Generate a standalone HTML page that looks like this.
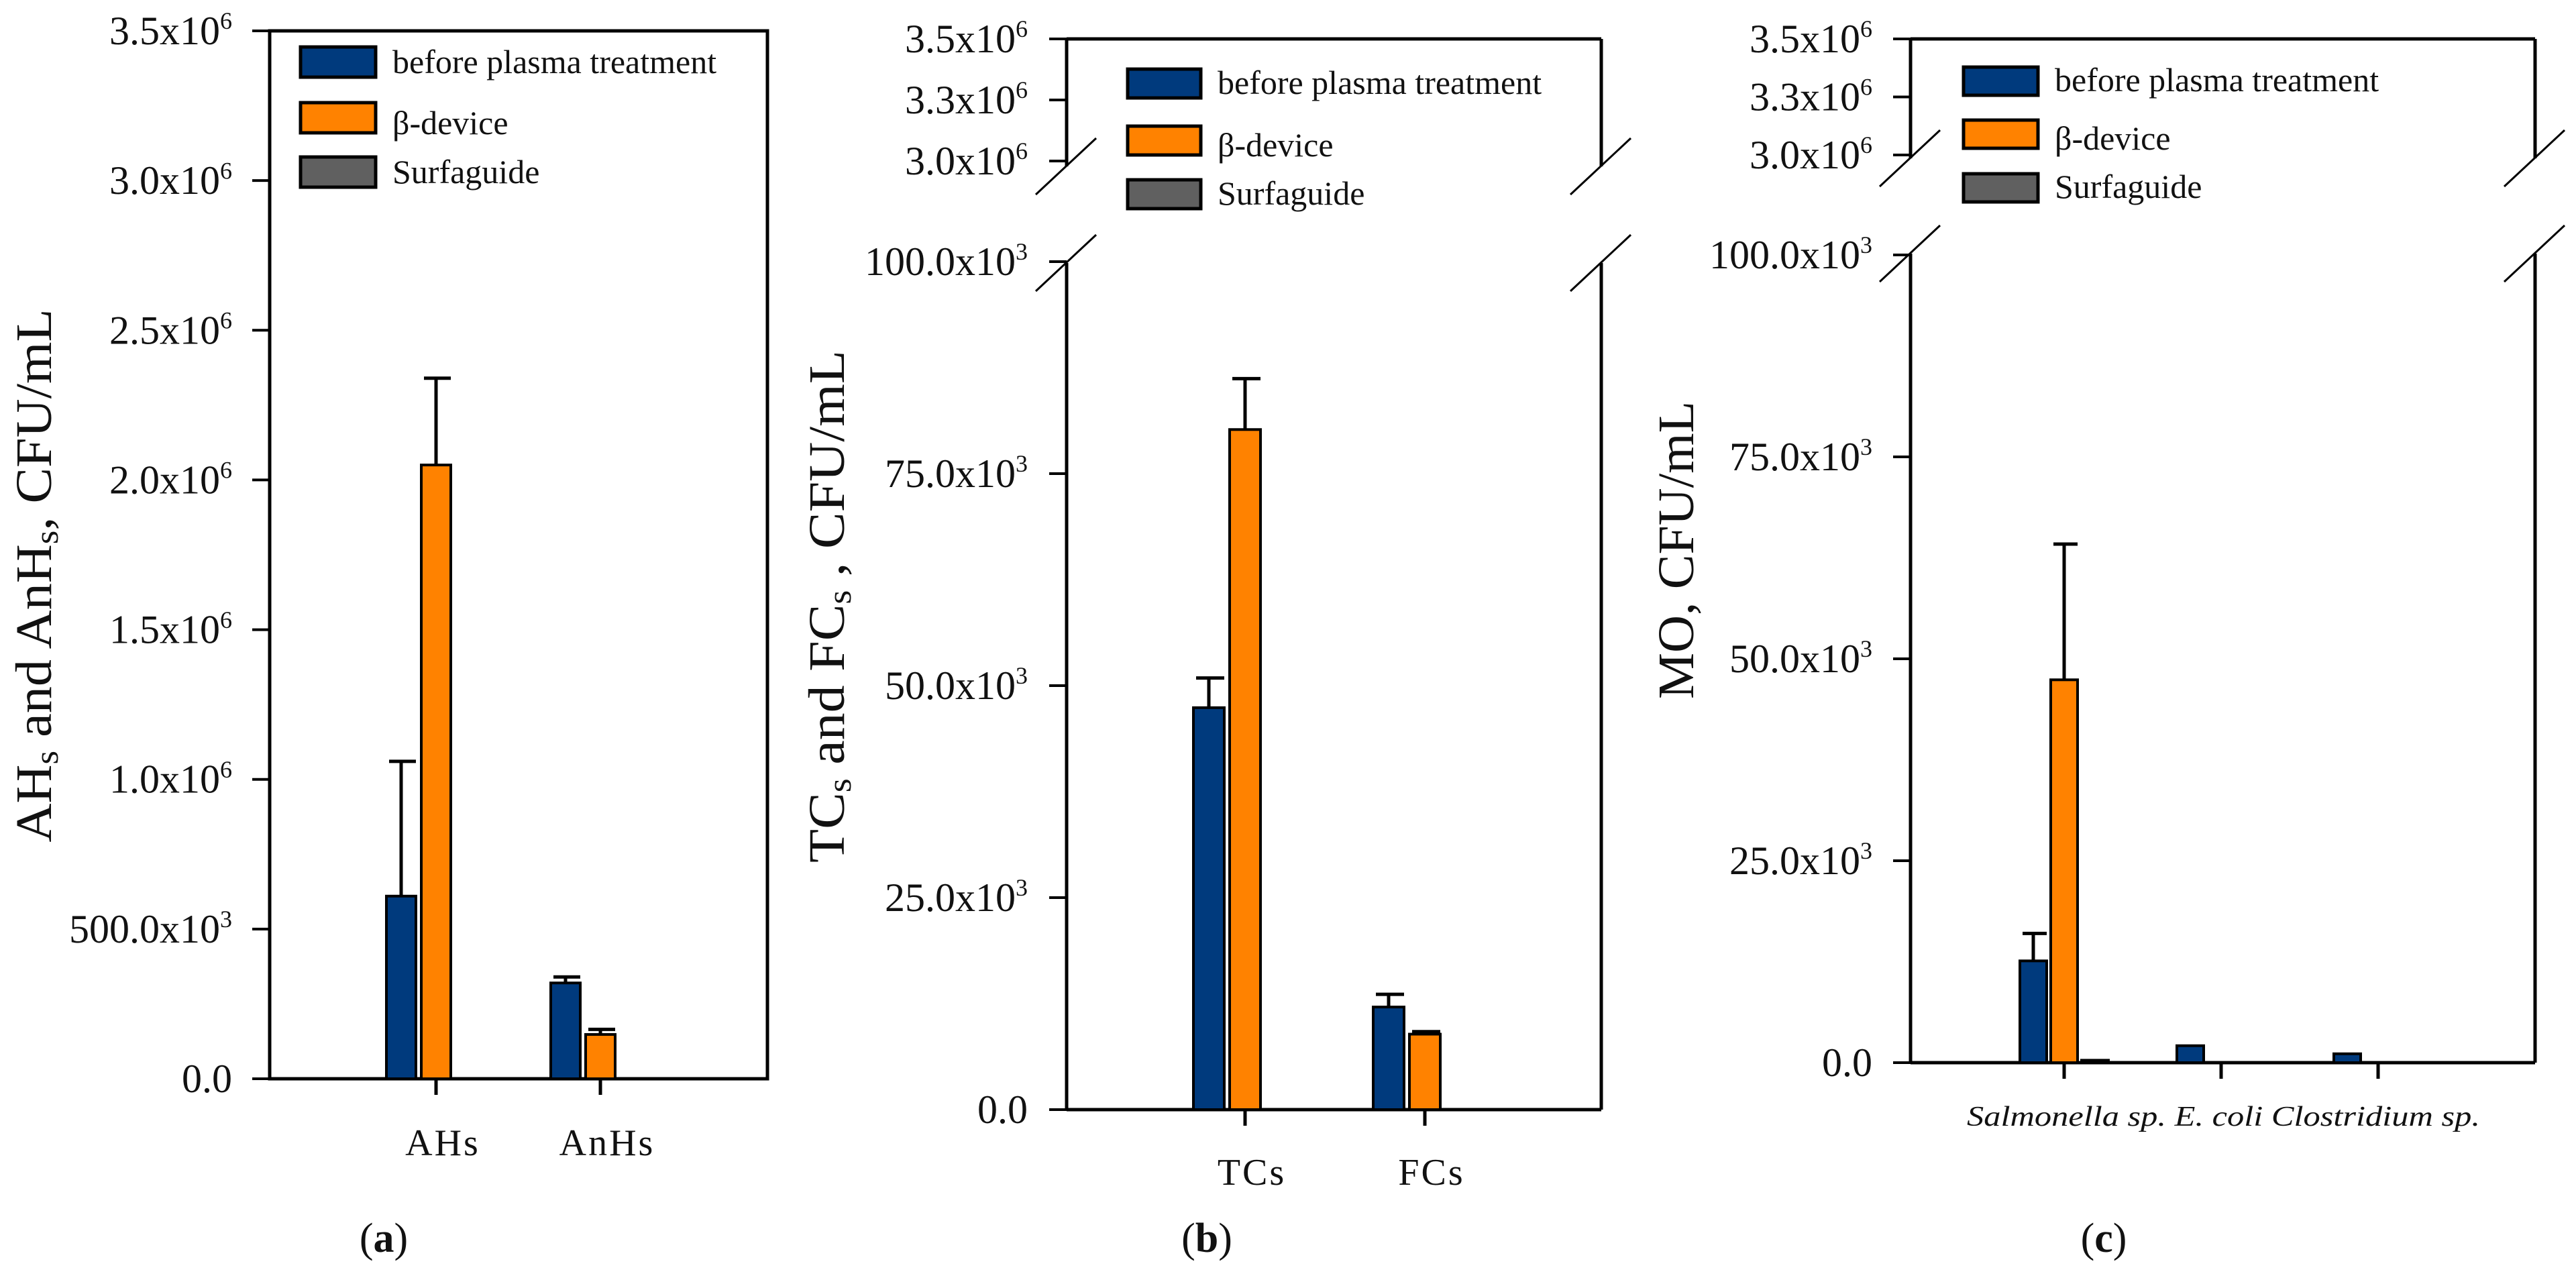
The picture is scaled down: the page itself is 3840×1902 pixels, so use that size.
<!DOCTYPE html>
<html><head><meta charset="utf-8"><style>
html,body{margin:0;padding:0;background:#fff;}
svg{display:block;font-family:"Liberation Serif",serif;}
</style></head>
<body>
<svg id="fig" width="3840" height="1902" viewBox="0 0 3840 1902" font-family="Liberation Serif, serif" xmlns="http://www.w3.org/2000/svg"></svg>
<script>
// ---- data ----
const seriesNames = ["before plasma treatment", "β-device", "Surfaguide"];
const aCategories = ["AHs", "AnHs"];
const aBefore = [610000, 320000];
const aBeforeErr = [450000, 20000];
const aBeta = [2050000, 148000];
const aBetaErr = [290000, 17000];
const aSurf = [0, 0];
const aTicks = [0, 500000, 1000000, 1500000, 2000000, 2500000, 3000000, 3500000];
const aTickLabels = ["0.0", "500.0x10|3", "1.0x10|6", "1.5x10|6", "2.0x10|6", "2.5x10|6", "3.0x10|6", "3.5x10|6"];

const bCategories = ["TCs", "FCs"];
const bBefore = [47400, 12100];
const bBeforeErr = [3500, 1500];
const bBeta = [80200, 8900];
const bBetaErr = [6000, 300];
const bSurf = [0, 0];
const bTicks = [0, 25000, 50000, 75000, 100000];
const bTickLabels = ["0.0", "25.0x10|3", "50.0x10|3", "75.0x10|3", "100.0x10|3"];
const bUpperTicks = [3000000, 3250000, 3500000];
const bUpperLabels = ["3.0x10|6", "3.3x10|6", "3.5x10|6"];

const cCategories = ["Salmonella sp.", "E. coli", "Clostridium sp."];
const cBefore = [12600, 2100, 1100];
const cBeforeErr = [3400, 0, 0];
const cBeta = [47400, 0, 0];
const cBetaErr = [16800, 0, 0];
const cSurf = [300, 0, 0];
const cTicks = [0, 25000, 50000, 75000, 100000];
const cTickLabels = ["0.0", "25.0x10|3", "50.0x10|3", "75.0x10|3", "100.0x10|3"];
const cUpperTicks = [3000000, 3250000, 3500000];
const cUpperLabels = ["3.0x10|6", "3.3x10|6", "3.5x10|6"];

const COLORS = ["#003a7d", "#ff8200", "#606060"];
const NS = "http://www.w3.org/2000/svg";
const svg = document.getElementById("fig");

function mk(tag, attrs, parent) {
  const e = document.createElementNS(NS, tag);
  for (const k in attrs) e.setAttribute(k, attrs[k]);
  (parent || svg).appendChild(e);
  return e;
}
function line(x1, y1, x2, y2, w, p) {
  return mk("line", {x1, y1, x2, y2, stroke: "#000", "stroke-width": w || 5}, p);
}
function expLabel(g, x, y, lab, fs) {
  const parts = lab.split("|");
  const t = mk("text", {x, y, "text-anchor": "end", "font-size": fs, fill: "#111"}, g);
  
  
  t.appendChild(document.createTextNode(parts[0]));
  if (parts[1]) {
    const s = mk("tspan", {"font-size": fs * 0.6, dy: -fs * 0.38}, t);
    s.textContent = parts[1];
  }
  return t;
}

function panel(cfg) {
  const g = mk("g", {});
  
  
  const y = v => cfg.y0 - (v - 0) / cfg.ymax * (cfg.y0 - cfg.ytop);
  const xc = i => cfg.x0 + i * cfg.step;
  const yu = v => cfg.uTop + (3500000 - v) / 500000 * (cfg.uBot - cfg.uTop);
  if (!cfg.broken) {
    mk("rect", {x: cfg.ax, y: cfg.ytop, width: cfg.axr - cfg.ax, height: cfg.y0 - cfg.ytop, fill: "none", stroke: "#000", "stroke-width": 5}, g);
  } else {
    line(cfg.ax, cfg.uTop, cfg.axr, cfg.uTop, 5, g);
    line(cfg.ax, cfg.uTop, cfg.ax, cfg.segA, 5, g);
    line(cfg.axr, cfg.uTop, cfg.axr, cfg.segA, 5, g);
    line(cfg.ax, cfg.segB, cfg.ax, cfg.y0, 5, g);
    line(cfg.axr, cfg.segB, cfg.axr, cfg.y0, 5, g);
    line(cfg.ax, cfg.y0, cfg.axr, cfg.y0, 5, g);
    [cfg.segA, cfg.segB].forEach(yy => {
      [cfg.ax, cfg.axr].forEach(xx => {
        const s = line(xx - 46, yy + 42, xx + 44, yy - 42, 3, g);
        
        
      });
    });
    cfg.uTicks.forEach((v, i) => {
      line(cfg.ax - 26, yu(v), cfg.ax, yu(v), 4, g);
      expLabel(g, cfg.labR, yu(v) + 20, cfg.uLabels[i], cfg.fs);
    });
  }
  cfg.ticks.forEach((v, i) => {
    line(cfg.ax - 26, y(v), cfg.ax, y(v), 4, g);
    expLabel(g, cfg.labR, y(v) + 20, cfg.tickLabels[i], cfg.fs);
  });
  const series = [[cfg.before, cfg.beforeErr], [cfg.beta, cfg.betaErr], [cfg.surf, null]];
  cfg.cats.forEach((c, i) => {
    line(xc(i), cfg.y0, xc(i), cfg.y0 + 24, 5, g);
    series.forEach((s, k) => {
      const v = s[0][i];
      if (v <= 0) return;
      const bx = xc(i) + (k - 1) * cfg.bstep - cfg.bw / 2;
      const r = mk("rect", {x: bx, y: y(v), width: cfg.bw, height: cfg.y0 - y(v), fill: COLORS[k], stroke: "#000", "stroke-width": 4}, g);
      
      
      if (s[1] && s[1][i] > 0) {
        const e = v + s[1][i];
        line(bx + cfg.bw / 2, y(v), bx + cfg.bw / 2, y(e), 5, g);
        line(bx + 4, y(e), bx + cfg.bw, y(e), 5, g);
      }
    });
    if (!cfg.italic) {
      const t = mk("text", {x: xc(i) + 10, y: cfg.xlabY, "text-anchor": "middle", "font-size": 56, fill: "#111", "letter-spacing": 3}, g);
      t.textContent = c;
      
      
    }
  });
  if (cfg.italic) {
    const t = mk("text", {x: cfg.italicX, y: cfg.xlabY, "font-size": 42, "font-style": "italic", fill: "#111", textLength: cfg.italicW, lengthAdjust: "spacingAndGlyphs"}, g);
    t.textContent = cfg.cats.join("  ");
    
    
  }
  const leg = mk("g", {}, g);
  
  
  cfg.legY.forEach((ly, k) => {
    mk("rect", {x: cfg.legX, y: ly, width: cfg.legW, height: cfg.legH, fill: COLORS[k], stroke: "#000", "stroke-width": 5}, leg);
    const t = mk("text", {x: cfg.legX + cfg.legW + 25, y: ly + cfg.legH - 6 + (k === 1 ? 8 : 0), "font-size": 50, fill: "#111"}, leg);
    t.textContent = seriesNames[k];
    
    
  });
  const yt = mk("text", {x: 0, y: 0, transform: `translate(${cfg.ytX},${cfg.ytY}) rotate(-90)`, "text-anchor": "middle", "font-size": 76, fill: "#111", textLength: cfg.ytLen, lengthAdjust: "spacingAndGlyphs"}, g);
  
  
  cfg.ytParts.forEach(p => {
    const s = mk("tspan", p[1] ? {"font-size": 50, dy: 10} : {dy: p[2] || 0}, yt);
    s.textContent = p[0];
  });
  const pl = mk("text", {x: cfg.letterX, y: 1866, "text-anchor": "middle", "font-size": 62, fill: "#111"}, g);
  pl.appendChild(document.createTextNode("("));
  const b = mk("tspan", {"font-weight": "bold"}, pl); b.textContent = cfg.letter;
  pl.appendChild(document.createTextNode(")"));
  
  
}

panel({name: "panel-a", broken: false, ax: 402, axr: 1144, ytop: 46, y0: 1608, ymax: 3500000,
  ticks: aTicks, tickLabels: aTickLabels, labR: 346, fs: 60,
  cats: aCategories, before: aBefore, beforeErr: aBeforeErr, beta: aBeta, betaErr: aBetaErr, surf: aSurf,
  x0: 650, step: 245, bw: 44, bstep: 52, xlabY: 1722,
  legX: 448, legW: 112, legH: 45, legY: [70, 153, 234],
  ytX: 76, ytY: 858, ytLen: 795,
  ytParts: [["AH"], ["s", 1], [" and AnH", 0, -10], ["s", 1], [", CFU/mL", 0, -10]],
  letter: "a", letterX: 572});

panel({name: "panel-b", broken: true, ax: 1590, axr: 2387, uTop: 58, uBot: 240, segA: 248, segB: 392,
  ytop: 390, y0: 1654, ymax: 100000, uTicks: bUpperTicks, uLabels: bUpperLabels,
  ticks: bTicks, tickLabels: bTickLabels, labR: 1532, fs: 60,
  cats: bCategories, before: bBefore, beforeErr: bBeforeErr, beta: bBeta, betaErr: bBetaErr, surf: bSurf,
  x0: 1856, step: 268, bw: 46, bstep: 54, xlabY: 1766,
  legX: 1681, legW: 109, legH: 43, legY: [103, 188, 268],
  ytX: 1258, ytY: 904, ytLen: 764,
  ytParts: [["TC"], ["s", 1], [" and FC", 0, -10], ["s", 1], [" , CFU/mL", 0, -10]],
  letter: "b", letterX: 1799});

panel({name: "panel-c", broken: true, ax: 2848, axr: 3779, uTop: 58, uBot: 231, segA: 236, segB: 378,
  ytop: 380, y0: 1584, ymax: 100000, uTicks: cUpperTicks, uLabels: cUpperLabels,
  ticks: cTicks, tickLabels: cTickLabels, labR: 2791, fs: 60,
  cats: cCategories, before: cBefore, beforeErr: cBeforeErr, beta: cBeta, betaErr: cBetaErr, surf: cSurf,
  x0: 3077, step: 234, bw: 40, bstep: 46, xlabY: 1678, italic: true, italicX: 2932, italicW: 765,
  legX: 2927, legW: 111, legH: 42, legY: [100, 179, 259],
  ytX: 2524, ytY: 820, ytLen: 444,
  ytParts: [["MO, CFU/mL"]],
  letter: "c", letterX: 3136});
</script>
</body></html>
